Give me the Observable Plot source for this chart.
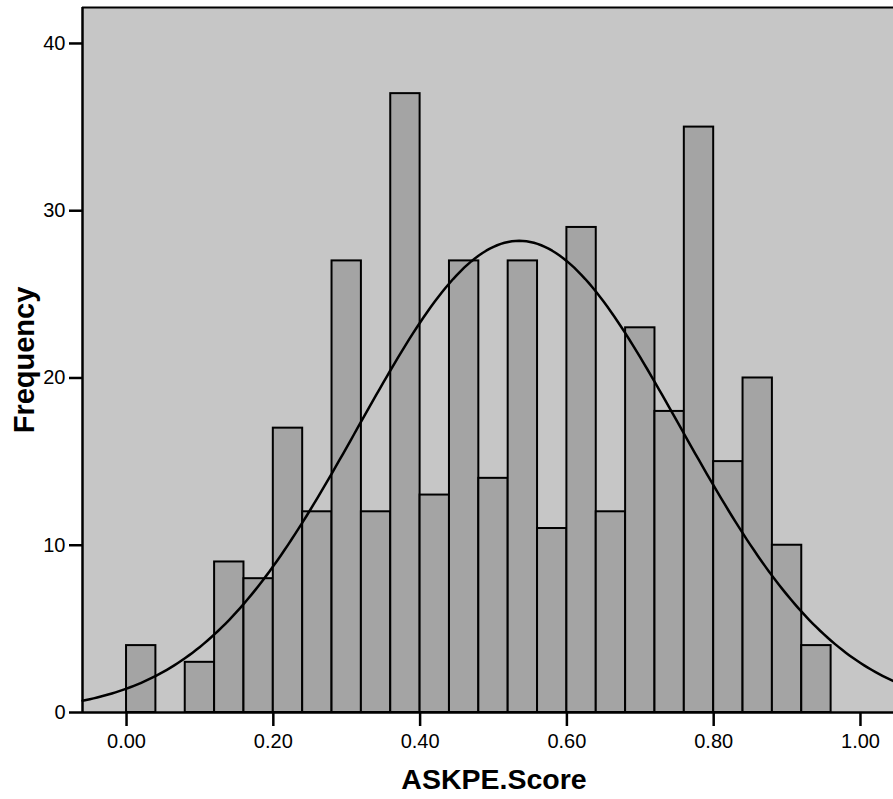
<!DOCTYPE html>
<html><head><meta charset="utf-8">
<script src="https://cdn.jsdelivr.net/npm/d3@7"></script>
<script src="https://cdn.jsdelivr.net/npm/@observablehq/plot@0.6"></script>
<style>body{margin:0;background:#fff}</style>
</head><body><div id="chart"></div>
<script>
// Histogram bins (lower edges) and counts
const binStarts = [0.00,0.04,0.08,0.12,0.16,0.20,0.24,0.28,0.32,0.36,0.40,0.44,0.48,0.52,0.56,0.60,0.64,0.68,0.72,0.76,0.80,0.84,0.88,0.92];
const binWidth = 0.04;
const counts = [4,0,3,9,8,17,12,27,12,37,13,27,14,27,11,29,12,23,18,35,15,20,10,4];
const xTicks = [0.0,0.2,0.4,0.6,0.8,1.0];
const yTicks = [0,10,20,30,40];
const xLabel = "ASKPE.Score";
const yLabel = "Frequency";
// fitted normal curve parameters
const curveMean = 0.535;
const curveSD = 0.219;

const xDomain = [-0.06, 1.045];
const yDomain = [0, 42.15];

const bins = binStarts.map((s, i) => ({x1: s, x2: s + binWidth, count: counts[i]})).filter(d => d.count > 0);
const N = d3.sum(counts);
const curve = d3.range(xDomain[0], xDomain[1] + 0.0001, 0.005).map(x => ({
  x,
  y: N * binWidth / (curveSD * Math.sqrt(2 * Math.PI)) * Math.exp(-0.5 * ((x - curveMean) / curveSD) ** 2)
}));

const font = "'Liberation Sans', Arial, Helvetica, sans-serif";

const chart = Plot.plot({
  width: 893,
  height: 799,
  marginLeft: 82,
  marginRight: 0,
  marginTop: 7,
  marginBottom: 87,
  style: {fontFamily: font, background: "#fff", color: "#000", overflow: "visible"},
  x: {domain: xDomain},
  y: {domain: yDomain},
  marks: [
    Plot.frame({fill: "#c6c6c6", stroke: null}),
    Plot.rectY(bins, {x1: "x1", x2: "x2", y: "count", fill: "#a4a4a4", stroke: "#000", strokeWidth: 2, inset: 0}),
    Plot.line(curve, {x: "x", y: "y", stroke: "#000", strokeWidth: 2.5}),
    Plot.ruleX([xDomain[0]], {stroke: "#000", strokeWidth: 2.5}),
    Plot.ruleY([yDomain[1]], {stroke: "#000", strokeWidth: 2}),
    Plot.ruleY([0], {stroke: "#000", strokeWidth: 2.5}),
    Plot.axisX({ticks: xTicks, tickFormat: d3.format(".2f"), tickSize: 14, tickPadding: 7, fontSize: 20, strokeWidth: 2.5, label: null}),
    Plot.axisY({ticks: yTicks, tickFormat: d3.format("d"), tickSize: 13, tickPadding: 4, fontSize: 20, strokeWidth: 2.5, label: null}),
    Plot.text([xLabel], {frameAnchor: "bottom", textAnchor: "middle", dx: 6, dy: 76, lineAnchor: "bottom", fontSize: 28.5, fontWeight: "bold", fill: "#000"}),
    Plot.text([yLabel], {frameAnchor: "left", textAnchor: "middle", rotate: -90, dx: -49, lineAnchor: "bottom", fontSize: 29, fontWeight: "bold", fill: "#000"})
  ]
});
document.getElementById("chart").appendChild(chart);
</script>
</body></html>
